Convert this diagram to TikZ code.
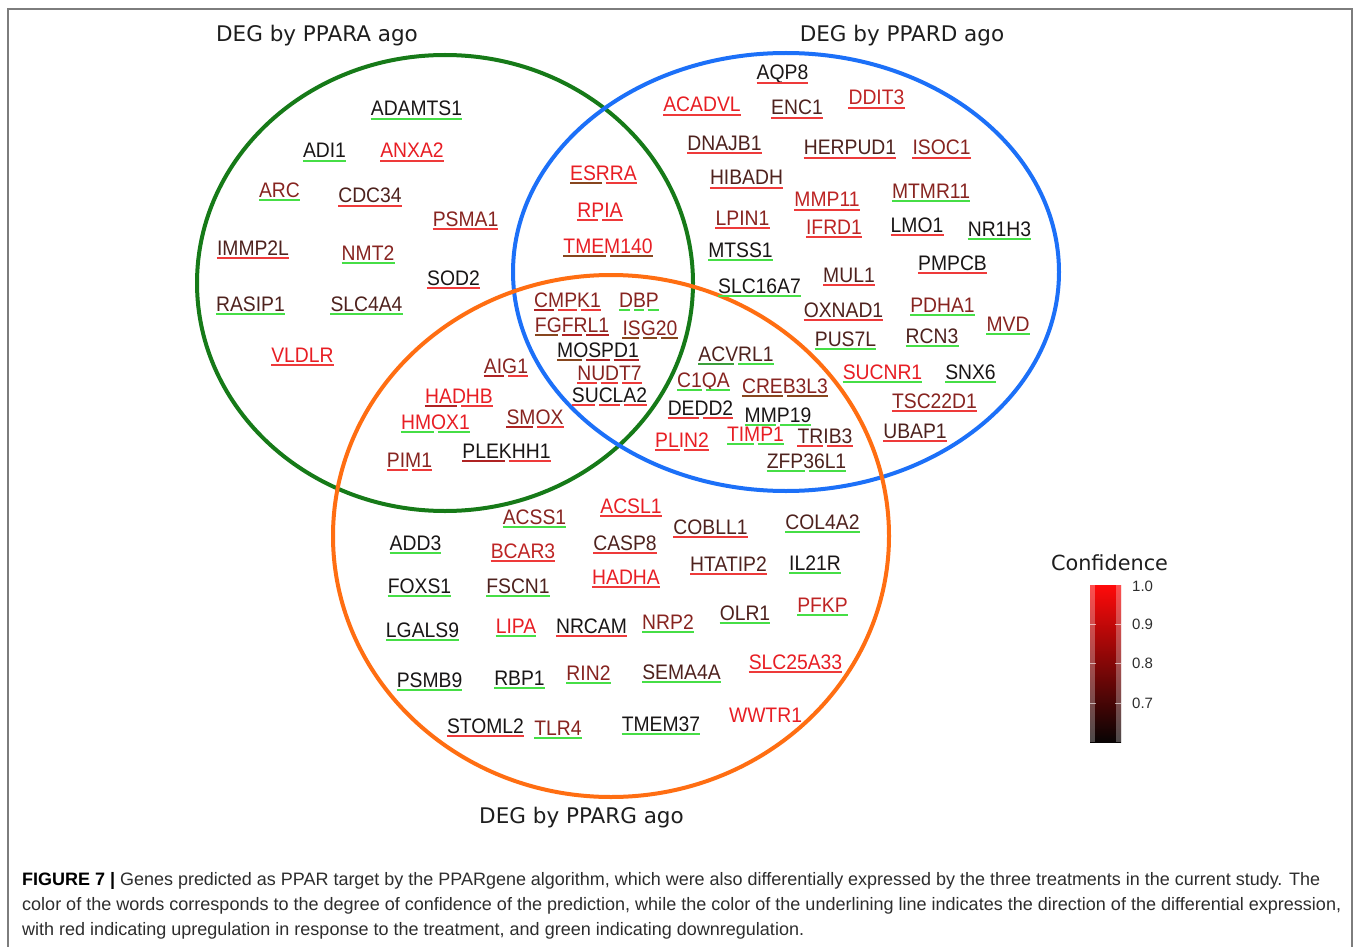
\documentclass[tikz,border=0pt]{standalone}
\usepackage{fontspec}
\usepackage{graphicx}
\usetikzlibrary{calc}
\newfontfamily\genefont[FakeStretch=0.92]{Liberation Sans}
\newfontfamily\titlefont{DejaVu Sans}
\newfontfamily\capfont{Liberation Sans}

\definecolor{cA}{RGB}{232,30,36}
\definecolor{cB}{RGB}{190,36,36}
\definecolor{cC}{RGB}{135,36,32}
\definecolor{cD}{RGB}{78,34,30}
\definecolor{cE}{RGB}{25,22,22}
\definecolor{ur}{RGB}{238,58,58}
\definecolor{ug}{RGB}{70,222,70}
\definecolor{ugd}{RGB}{60,160,60}
\definecolor{ub}{RGB}{135,70,30}
\definecolor{udr}{RGB}{175,35,35}
\definecolor{vgreen}{RGB}{22,122,24}
\definecolor{vblue}{RGB}{28,112,248}
\definecolor{vorange}{RGB}{255,110,18}
\definecolor{captext}{RGB}{45,45,45}
\definecolor{titletext}{RGB}{30,30,30}
\definecolor{framegray}{RGB}{125,125,125}

\tikzset{
  gene/.style={anchor=base, inner sep=0pt, font=\genefont\fontsize{21}{21}\selectfont},
  uline/.style={line width=2pt},
  venn/.style={line width=4pt},
  vtitle/.style={anchor=base, inner sep=0pt, text=titletext, font=\titlefont\fontsize{21.5}{21.5}\selectfont},
  ticklabel/.style={anchor=west, inner sep=0pt, text=captext, font=\capfont\fontsize{15}{15}\selectfont},
  captionline/.style={anchor=base west, inner sep=0pt, text=captext, font=\capfont\fontsize{18}{18}\selectfont},
  barTick/.style={draw=white, opacity=0.6, line width=1pt}
}

\newcommand\gene[5]{%
  \node[gene,text=#4] (#1) at (#2,#3) {#1};
  \foreach \c [count=\i] in {#5} {\xdef\nseg{\i}}%
  \foreach \c [count=\i] in {#5} {%
    \pgfmathsetmacro\ta{(\i-1)/\nseg}%
    \pgfmathsetmacro\tb{\i/\nseg}%
    \pgfmathsetmacro\ga{\i>1?2:0}%
    \pgfmathsetmacro\gb{\i<\nseg?-2:0}%
    \draw[uline,draw=\c] ($(#1.base west)!\ta!(#1.base east)+(\ga,3.2)$) -- ($(#1.base west)!\tb!(#1.base east)+(\gb,3.2)$);
  }%
}

\begin{document}
\begin{tikzpicture}[x=1pt,y=-1pt]
\useasboundingbox (0,0) rectangle (1358,947);
\fill[white] (0,0) rectangle (1358,947);
% frame
\draw[framegray, line width=1.2pt] (8,947) -- (8,9) -- (1352,9) -- (1352,947);

% Venn ellipses
\draw[venn,vgreen] (445,283) ellipse [x radius=248pt, y radius=228pt];
\draw[venn,vblue] (786,272) ellipse [x radius=273pt, y radius=219pt];
\draw[venn,vorange] (611,536) ellipse [x radius=278pt, y radius=261pt];

% titles
\node[vtitle] (tA) at (317,42) {DEG by PPARA ago};
\node[vtitle] (tD) at (902,42) {DEG by PPARD ago};
\node[vtitle] (tG) at (581.5,823) {DEG by PPARG ago};

% PPARA only
\gene{ADAMTS1}{416.5}{116}{cE}{ug}
\gene{ADI1}{324.5}{158}{cE}{ug}
\gene{ANXA2}{412}{158}{cA}{ur}
\gene{ARC}{279.5}{197}{cC}{ug}
\gene{CDC34}{370}{203}{cD}{ur}
\gene{PSMA1}{465.5}{226}{cC}{ur}
\gene{IMMP2L}{253}{255}{cD}{ur}
\gene{NMT2}{368}{260}{cC}{ug}
\gene{SOD2}{453.5}{285}{cE}{ur}
\gene{RASIP1}{250.5}{311}{cD}{ug}
\gene{SLC4A4}{366.5}{311}{cD}{ug}
\gene{VLDLR}{302.5}{362}{cA}{ur}

% PPARD only
\gene{AQP8}{782.5}{80}{cE}{ur}
\gene{ACADVL}{702}{112}{cA}{ur}
\gene{ENC1}{797}{115}{cD}{ur}
\gene{DDIT3}{876.5}{105}{cB}{ur}
\gene{DNAJB1}{724.5}{150}{cD}{ur}
\gene{HERPUD1}{850}{155}{cD}{ur}
\gene{ISOC1}{941.5}{155}{cC}{ur}
\gene{HIBADH}{746.5}{185}{cD}{ur}
\gene{MMP11}{827}{207}{cB}{ur}
\gene{MTMR11}{931}{198}{cC}{ug}
\gene{LPIN1}{742.5}{225}{cC}{ur}
\gene{IFRD1}{834}{234}{cB}{ur}
\gene{LMO1}{917}{232}{cE}{ur}
\gene{NR1H3}{999.5}{236}{cE}{ug}
\gene{MTSS1}{740.5}{257}{cE}{ug}
\gene{PMPCB}{952.5}{270}{cE}{ur}
\gene{MUL1}{849}{282}{cD}{ur}
\gene{SLC16A7}{759.5}{293}{cE}{ug}
\gene{OXNAD1}{843.5}{317}{cD}{ur}
\gene{PDHA1}{942.5}{312}{cC}{ug}
\gene{MVD}{1008}{331}{cC}{ug}
\gene{PUS7L}{845.5}{346}{cD}{ug}
\gene{RCN3}{932}{343}{cD}{ug}
\gene{SUCNR1}{882.5}{379}{cA}{ug}
\gene{SNX6}{970.5}{379}{cE}{ug}
\gene{TSC22D1}{934.5}{408}{cC}{ur}
\gene{UBAP1}{915}{438}{cD}{ur}

% PPARA & PPARD
\gene{ESRRA}{603.5}{180}{cA}{ub,ur}
\gene{RPIA}{600}{217}{cA}{ur,ur}
\gene{TMEM140}{608}{253}{cA}{ub,ub}

% all three
\gene{CMPK1}{567.5}{307}{cC}{udr,ur,ur}
\gene{DBP}{639}{307}{cC}{ug,ug,ug}
\gene{FGFRL1}{572}{332}{cC}{ub,udr,udr}
\gene{ISG20}{650}{335}{cC}{ub,ub,ub}
\gene{MOSPD1}{598}{357}{cE}{ub,udr,udr}
\gene{NUDT7}{609.5}{380}{cC}{ur,ur,ur}
\gene{SUCLA2}{609.5}{402}{cE}{ur,ur,ur}

% PPARA & PPARG
\gene{AIG1}{506}{373}{cC}{udr,ur}
\gene{HADHB}{459}{403}{cA}{udr,ur}
\gene{HMOX1}{435.5}{429}{cA}{ug,ug}
\gene{SMOX}{535}{424}{cC}{udr,ur}
\gene{PLEKHH1}{506.5}{458}{cE}{udr,ur}
\gene{PIM1}{409.5}{467}{cC}{ur,ur}

% PPARD & PPARG
\gene{ACVRL1}{736}{361}{cD}{ugd,ug}
\gene{C1QA}{703.5}{387}{cC}{ug,ug}
\gene{CREB3L3}{785}{393}{cC}{ub,ub}
\gene{DEDD2}{700.5}{415}{cE}{ur,ur}
\gene{MMP19}{778}{422}{cE}{ug,ug}
\gene{PLIN2}{682}{447}{cA}{ur,ur}
\gene{TIMP1}{755.5}{441}{cA}{ug,ug}
\gene{TRIB3}{825}{443}{cD}{ur,ur}
\gene{ZFP36L1}{806.5}{468}{cD}{ug,ug}

% PPARG only
\gene{ACSS1}{534.5}{524}{cC}{ug}
\gene{ACSL1}{631}{513}{cA}{ur}
\gene{ADD3}{415.5}{550}{cE}{ug}
\gene{BCAR3}{523}{558}{cB}{ur}
\gene{CASP8}{625}{550}{cD}{ur}
\gene{COBLL1}{710.5}{534}{cD}{ur}
\gene{COL4A2}{822.5}{529}{cD}{ug}
\gene{FOXS1}{419.5}{593}{cE}{ug}
\gene{FSCN1}{518}{593}{cD}{ug}
\gene{HADHA}{626}{584}{cA}{ur}
\gene{HTATIP2}{728.5}{571}{cD}{ur}
\gene{IL21R}{815}{570}{cE}{ug}
\gene{LGALS9}{422.5}{637}{cE}{ug}
\gene{LIPA}{516}{633}{cA}{ug}
\gene{NRCAM}{591.5}{633}{cE}{ur}
\gene{NRP2}{668}{629}{cC}{ug}
\gene{OLR1}{745}{620}{cD}{ug}
\gene{PFKP}{822.5}{612}{cB}{ug}
\gene{PSMB9}{429.5}{687}{cE}{ug}
\gene{RBP1}{519.5}{685}{cE}{ug}
\gene{RIN2}{588.5}{680}{cC}{ug}
\gene{SEMA4A}{681.5}{679}{cD}{ug}
\gene{SLC25A33}{795.5}{669}{cA}{ur}
\gene{STOML2}{485.5}{733}{cE}{ur}
\gene{TLR4}{558}{735}{cC}{ug}
\gene{TMEM37}{661}{731}{cE}{ug}
\node[gene,text=cA] (WWTR1) at (765.5,722) {WWTR1};

% legend
\node[vtitle, font=\titlefont\fontsize{20.8}{20.8}\selectfont] (conf) at (1109.5,570) {Confidence};
\shade[top color={rgb,255:red,255;green,10;blue,10}, bottom color={rgb,255:red,8;green,4;blue,4}] (1090,585) rectangle (1121,742);
\fill[white, opacity=0.28] (1090,585) rectangle (1095,742);
\fill[white, opacity=0.28] (1116,585) rectangle (1121,742);
\foreach \yy in {624,663,703} {
  \draw[barTick] (1090,\yy) -- (1096,\yy);
  \draw[barTick] (1115,\yy) -- (1121,\yy);
}
\node[ticklabel] (l10) at (1132,586) {1.0};
\node[ticklabel] (l09) at (1132,624) {0.9};
\node[ticklabel] (l08) at (1132,663) {0.8};
\node[ticklabel] (l07) at (1132,703) {0.7};

% caption
\node[captionline] (cap1) at (22,885) {\resizebox{1298pt}{\height}{{\color{black}\textbf{FIGURE 7 |}} Genes predicted as PPAR target by the PPARgene algorithm, which were also differentially expressed by the three treatments in the current study. The}};
\node[captionline] (cap2) at (22,910) {\resizebox{1319pt}{\height}{color of the words corresponds to the degree of confidence of the prediction, while the color of the underlining line indicates the direction of the differential expression,}};
\node[captionline] (cap3) at (22,935) {\resizebox{782pt}{\height}{with red indicating upregulation in response to the treatment, and green indicating downregulation.}};
\end{tikzpicture}
\end{document}
